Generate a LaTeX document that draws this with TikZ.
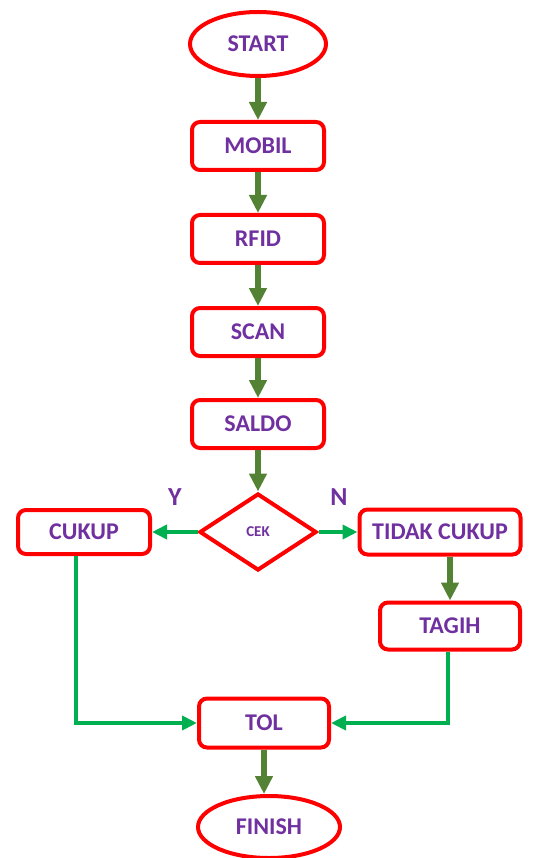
\documentclass[tikz,border=0pt]{standalone}
\usepackage{fontspec}
\setmainfont{Carlito}
\usetikzlibrary{arrows.meta,shapes.geometric}
\definecolor{boxred}{HTML}{FF0000}
\definecolor{txtpurple}{HTML}{7030A0}
\definecolor{flowgreen}{HTML}{548235}
\definecolor{brgreen}{HTML}{00B050}
\begin{document}
\begin{tikzpicture}[x=1pt,y=-1pt,
  base/.style={draw=boxred, line width=4pt, fill=white, text=txtpurple,
    font=\bfseries\fontsize{24}{28}\selectfont, inner sep=0pt},
  stepbox/.style={base, rectangle, rounded corners=8pt, minimum width=132pt, minimum height=48pt},
  term/.style={base, ellipse, minimum width=136pt, minimum height=64pt},
  decide/.style={base, diamond, minimum width=117pt, minimum height=77pt,
    font=\bfseries\fontsize{15}{17}\selectfont},
  lbl/.style={text=txtpurple, font=\bfseries\fontsize{26}{30}\selectfont, inner sep=0pt},
  flow/.style={draw=flowgreen, line width=6pt, -{Triangle[length=18pt,width=17pt]}},
  branch/.style={draw=brgreen, line width=4pt, -{Triangle[length=15pt,width=14pt]}}
]
\useasboundingbox (0,0) rectangle (537,858);

% main column
\node[term] (start) at (258,44) {START};
\node[stepbox] (mobil) at (258,146) {MOBIL};
\node[stepbox] (rfid) at (258,239) {RFID};
\node[stepbox] (scan) at (258,332) {SCAN};
\node[stepbox] (saldo) at (258,424) {SALDO};
\node[decide] (cek) at (258,532) {CEK};

% branches
\node[stepbox, minimum height=44pt] (cukup) at (84,532) {CUKUP};
\node[stepbox, minimum width=161pt, minimum height=45pt] (tidak) at (440,532) {TIDAK CUKUP};
\node[stepbox, minimum width=140pt, minimum height=47pt] (tagih) at (450,626) {TAGIH};
\node[stepbox, minimum width=130pt, minimum height=49pt] (tol) at (264,723) {TOL};
\node[term, minimum width=142pt, minimum height=62pt] (finish) at (269,827) {FINISH};

\node[lbl] (ylbl) at (175,497) {Y};
\node[lbl] (nlbl) at (339,497) {N};

% connectors
\draw[flow] (start) -- (mobil);
\draw[flow] (mobil) -- (rfid);
\draw[flow] (rfid) -- (scan);
\draw[flow] (scan) -- (saldo);
\draw[flow] (saldo) -- (cek);
\draw[flow] (tidak.south -| tagih.north) -- (tagih.north);
\draw[flow] (tol.south) -- (tol.south |- finish.north);

\draw[branch] (cek.west) -- (cukup.east);
\draw[branch] (cek.east) -- (tidak.west);
\draw[branch] ([xshift=-8pt]cukup.south) |- (tol.west);
\draw[branch] ([xshift=-2pt]tagih.south) |- (tol.east);
\end{tikzpicture}
\end{document}
